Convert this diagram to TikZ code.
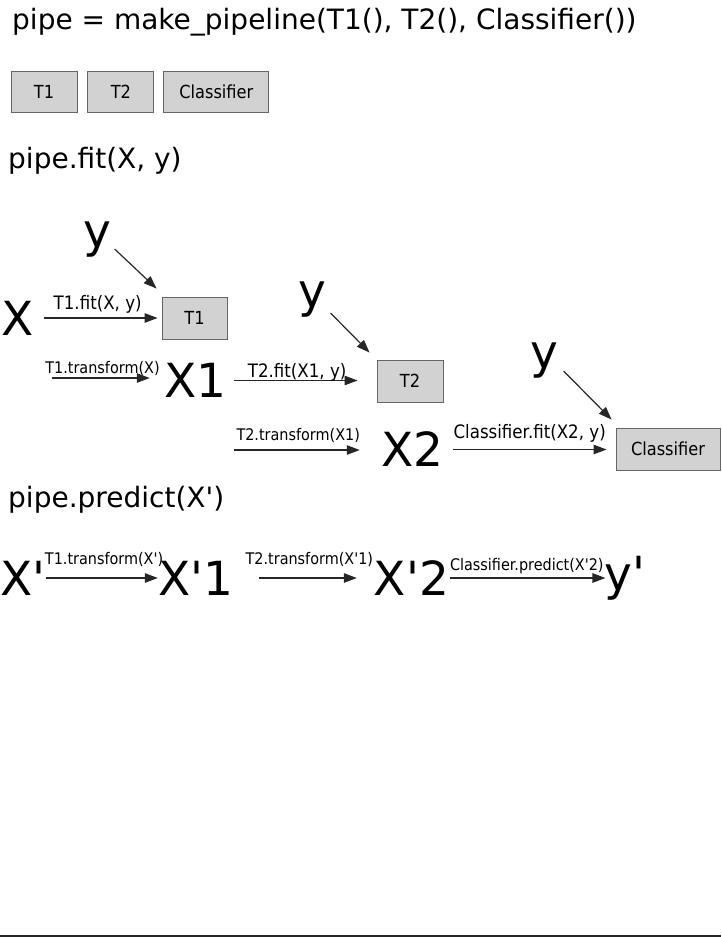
\documentclass[tikz,border=0pt]{standalone}
\usepackage{fontspec}
\newfontfamily\pipefont{DejaVu Sans}
\newfontfamily\callfont[FakeStretch=0.9]{DejaVu Sans}
\usetikzlibrary{positioning,arrows.meta}

\begin{document}
\begin{tikzpicture}[
  x=1pt, y=1pt,
  >={Triangle[length=13pt,width=9.5pt]},
  every node/.style={inner sep=0pt},
  head/.style={anchor=west, font=\pipefont\fontsize{28}{30}\selectfont},
  var/.style={font=\pipefont\fontsize{47}{50}\selectfont},
  stage/.style={draw=black!60, fill=gray!35, line width=0.9pt,
                minimum height=42pt, minimum width=66pt,
                font=\callfont\fontsize{18}{20}\selectfont},
  minor/.style={stage, minimum height=41pt},
  call/.style={font=\callfont\fontsize{18.5}{20}\selectfont},
  tcall/.style={font=\callfont\fontsize{16}{18}\selectfont},
  flow/.style={->, draw=black!85, line width=1.2pt},
]
\useasboundingbox (0,0) rectangle (721,-937);

% construction
\node[head] (title) at (12,-22) {pipe = make\_pipeline(T1(), T2(), Classifier())};
\node[minor] (s1) at (44,-91.5) {T1};
\node[minor, right=10pt of s1] (s2) {T2};
\node[minor, right=9pt of s2, minimum width=105pt] (s3) {Classifier};

% fit
\node[head] (fit) at (8,-161) {pipe.fit(X, y)};
\node[var] (yA) at (97,-240) {y};
\node[var] (x0) at (17.5,-318.5) {X};
\node[stage, minimum width=65pt] (t1fit) at (194.5,-318) {T1};
\node[var] (x1) at (195.5,-380.5) {X1};
\node[var] (yB) at (312,-300) {y};
\node[stage] (t2fit) at (410,-381) {T2};
\node[var] (x2) at (412.5,-449.5) {X2};
\node[var] (yC) at (544.5,-360.5) {y};
\node[stage, minimum width=104pt] (clf) at (668,-449) {Classifier};
\coordinate (tr1) at (52,-378);
\coordinate (tr2) at (234,-450);

\draw[flow] ([shift={(3.5,-9)}]yA.east) -- ([shift={(-5,8)}]t1fit.north west);
\draw[flow, shorten <=10.4pt, shorten >=4pt] (x0.east |- t1fit.west) -- (t1fit.west)
  node[call, midway, above=4.5pt] {T1.fit(X, y)};
\draw[flow, shorten >=14.5pt] (tr1) -- (tr1 -| x1.west)
  node[tcall, pos=0.45, above=1.8pt] {T1.transform(X)};
\draw[flow, shorten <=7.5pt, shorten >=19pt] (x1.east) -- (x1.east -| t2fit.west)
  node[call, pos=0.47, above=-1.7pt] {T2.fit(X1, y)};
\draw[flow] ([shift={(4.4,-13)}]yB.east) -- ([shift={(-7,7)}]t2fit.north west);
\draw[flow, shorten >=21.5pt] (tr2) -- (tr2 -| x2.west)
  node[tcall, pos=0.436, above=6.8pt] {T2.transform(X1)};
\draw[flow, shorten <=9.5pt, shorten >=9pt] (x2.east) -- (x2.east -| clf.west)
  node[call, midway, above=6.3pt] {Classifier.fit(X2, y)};
\draw[flow] ([shift={(5,-10.5)}]yC.east) -- ([shift={(-4,8)}]clf.north west);

% predict
\node[head] (predict) at (8,-500) {pipe.predict(X')};
\node[var] (xp) at (22.6,-578) {X'};
\node[var] (xp1) at (196,-578) {X'1};
\node[var] (xp2) at (411.5,-578) {X'2};
\node[var] (yp) at (625,-578) {y'};

\draw[flow, shorten <=0.8pt, shorten >=0.5pt] (xp) -- (xp1)
  node[tcall, pos=0.52, above=10.8pt] {T1.transform(X')};
\draw[flow, shorten <=25.5pt, shorten >=17pt] (xp1) -- (xp2)
  node[tcall, pos=0.54, above=10.8pt] {T2.transform(X'1)};
\draw[flow, shorten <=1pt, shorten >=-1pt] (xp2) -- (yp)
  node[tcall, midway, above=3.8pt] {Classifier.predict(X'2)};

\draw[line width=2pt, black!85] (0,-935.5) -- (721,-935.5);
\end{tikzpicture}
\end{document}
